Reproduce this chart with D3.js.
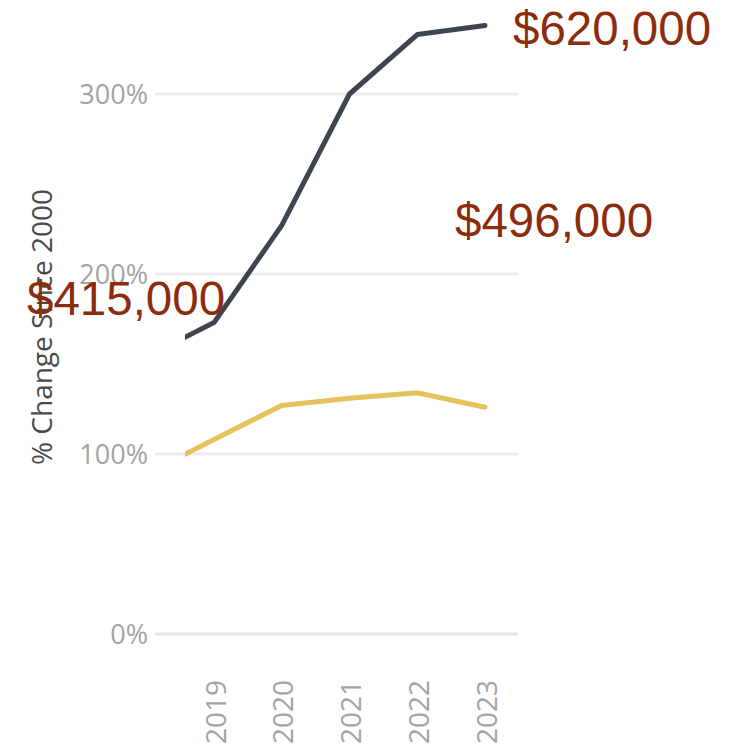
<!DOCTYPE html>
<html>
<head>
<meta charset="utf-8">
<script src="https://cdn.jsdelivr.net/npm/d3@7"></script>
<style>
  html, body { margin: 0; padding: 0; background: #fff; }
  svg { display: block; }
</style>
</head>
<body>
<svg id="chart" width="734" height="752"></svg>
<script>
// Years plotted (2018 sits just outside the visible plot window and is clipped)
const years = [2018, 2019, 2020, 2021, 2022, 2023];
const tickYears = [2019, 2020, 2021, 2022, 2023];

// Percent change since 2000
const seriesDark = [154, 173, 227, 300, 333, 338];
const seriesGold = [89, 108, 127, 131, 134, 126];

const yTicks = [0, 100, 200, 300];

// Price annotations
const priceLabels = ["$620,000", "$496,000", "$415,000"];

const svg = d3.select("#chart");

const x = d3.scaleLinear().domain([2019, 2023]).range([214, 485]);
const y = d3.scaleLinear().domain([0, 300]).range([634, 94]);

const tickFont = "'Open Sans', 'Noto Sans', sans-serif";

// Horizontal gridlines
svg.append("g")
  .selectAll("line")
  .data(yTicks)
  .join("line")
  .attr("x1", 155)
  .attr("x2", 518)
  .attr("y1", d => y(d))
  .attr("y2", d => y(d))
  .attr("stroke", d => d === 0 ? "#e4e4e4" : "#ededed")
  .attr("stroke-width", 3);

// Y axis tick labels
const yAxis = d3.axisLeft(y)
  .tickValues(yTicks)
  .tickFormat(d => d + "%")
  .tickSize(0)
  .tickPadding(0);

svg.append("g")
  .attr("transform", "translate(148,0)")
  .call(yAxis)
  .call(g => g.select(".domain").remove())
  .call(g => g.selectAll("text")
    .attr("font-family", tickFont)
    .attr("font-size", 27)
    .attr("fill", "#a3a3a3")
    .attr("dy", "0.36em"));

// X axis year labels (rotated)
const xAxis = d3.axisBottom(x)
  .tickValues(tickYears)
  .tickFormat(d3.format("d"))
  .tickSize(0)
  .tickPadding(0);

svg.append("g")
  .attr("transform", "translate(0,680)")
  .call(xAxis)
  .call(g => g.select(".domain").remove())
  .call(g => g.selectAll("text")
    .attr("font-family", tickFont)
    .attr("font-size", 28)
    .attr("fill", "#a3a3a3")
    .attr("text-anchor", "end")
    .attr("transform", "rotate(-90)")
    .attr("x", 0)
    .attr("y", 1)
    .attr("dy", "0.36em"));

// Axis title
svg.append("text")
  .attr("transform", "translate(52,327) rotate(-90)")
  .attr("text-anchor", "middle")
  .attr("font-family", tickFont)
  .attr("font-size", 28)
  .attr("font-weight", 500)
  .attr("fill", "#4a4a4a")
  .text("% Change Since 2000");

// Plot window clip
svg.append("clipPath")
  .attr("id", "plot-clip")
  .append("rect")
  .attr("x", 185)
  .attr("y", 0)
  .attr("width", 549)
  .attr("height", 752);

const line = d3.line()
  .x((d, i) => x(years[i]))
  .y(d => y(d));

const lines = svg.append("g").attr("clip-path", "url(#plot-clip)");

lines.append("path")
  .datum(seriesGold)
  .attr("d", line)
  .attr("fill", "none")
  .attr("stroke", "#e5c25e")
  .attr("stroke-width", 5)
  .attr("stroke-linejoin", "round")
  .attr("stroke-linecap", "round");

lines.append("path")
  .datum(seriesDark)
  .attr("d", line)
  .attr("fill", "none")
  .attr("stroke", "#3e4550")
  .attr("stroke-width", 5)
  .attr("stroke-linejoin", "round")
  .attr("stroke-linecap", "round");

// Price annotations
const labelPos = [[513, 45], [455, 237], [27, 315]];
svg.append("g")
  .selectAll("text")
  .data(priceLabels)
  .join("text")
  .attr("x", (d, i) => labelPos[i][0])
  .attr("y", (d, i) => labelPos[i][1])
  .attr("font-family", "'Liberation Sans', Arial, sans-serif")
  .attr("font-size", 47.5)
  .attr("fill", "#8b2c0d")
  .text(d => d);
</script>
</body>
</html>
